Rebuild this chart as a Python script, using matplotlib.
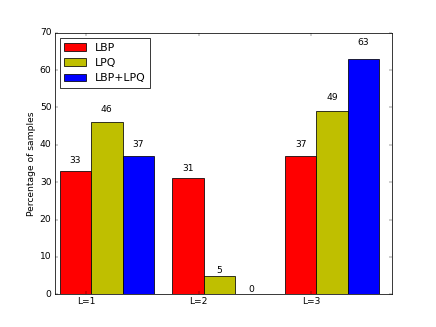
import numpy as np
import matplotlib
matplotlib.use("Agg")
import matplotlib.pyplot as plt

plt.style.use('classic')

levels = ['L=1', 'L=2', 'L=3']
lbp = [33, 31, 37]
lpq = [46, 5, 49]
lbp_lpq = [37, 0, 63]

ind = np.arange(len(levels))
width = 0.28

fig, ax = plt.subplots(figsize=(8, 6), dpi=54.5)
rects1 = ax.bar(ind, lbp, width, color='r', align='edge')
rects2 = ax.bar(ind + width, lpq, width, color='y', align='edge')
rects3 = ax.bar(ind + 2 * width, lbp_lpq, width, color='b', align='edge')

ax.set_ylabel('Percentage of samples')
ax.set_xticks(ind + 0.235)
ax.set_xticklabels(levels)
ax.set_xlim(-0.045, 2.955)
ax.set_ylim(0, 70)

ax.legend((rects1[0], rects2[0], rects3[0]), ('LBP', 'LPQ', 'LBP+LPQ'), loc='upper left')


def autolabel(rects):
    for rect in rects:
        height = rect.get_height()
        ax.text(rect.get_x() + rect.get_width() / 2., 1.05 * height,
                '%d' % int(height), ha='center', va='bottom')


autolabel(rects1)
autolabel(rects2)
autolabel(rects3)

fig.savefig('out.png', dpi=54.5)
